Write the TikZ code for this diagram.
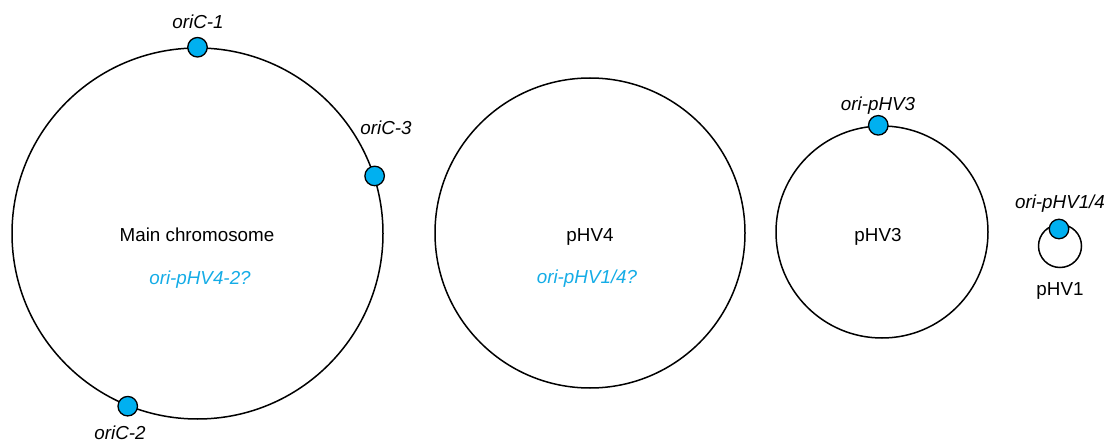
\documentclass[tikz,border=0pt]{standalone}
\usepackage{fontspec}
\setmainfont{Liberation Sans}
\definecolor{oricyan}{RGB}{0,176,240}
\definecolor{oritext}{RGB}{20,172,230}
\begin{document}
\begin{tikzpicture}[x=1pt,y=-1pt,
  replicon/.style={draw=black,line width=1.5pt,circle,inner sep=0pt},
  origin/.style={draw=black,fill=oricyan,line width=1.3pt,circle,inner sep=0pt,minimum size=19.5pt},
  lbl/.style={anchor=base,inner sep=0pt,font=\fontsize{18.8}{21}\selectfont},
  orilbl/.style={lbl,font=\fontsize{18.8}{21}\selectfont\itshape},
  qlbl/.style={orilbl,text=oritext}]
\useasboundingbox (0,0) rectangle (1109,441);
% replicons
\node[replicon,minimum size=371pt] (main) at (197.5,233.5) {};
\node[replicon,minimum size=310pt] (p4) at (590,233) {};
\node[replicon,minimum size=212pt] (p3) at (882,232) {};
\node[replicon,minimum size=43pt] (p1) at (1060,246) {};
% origins
\node[origin] (o1) at (main.90) {};
\node[origin] (o3) at (main.18) {};
\node[origin] (o2) at (main.248) {};
\node[origin] (op3) at (p3.92) {};
\node[origin] (op1) at (1059,229) {};
% labels
\node[orilbl] (lo1) at (198,29) {oriC-1};
\node[orilbl] (lo3) at (386,135) {oriC-3};
\node[orilbl] (lo2) at (120,439) {oriC-2};
\node[orilbl] (lop3) at (878,111) {ori-pHV3};
\node[orilbl] (lop1) at (1060,208) {ori-pHV1/4};
\node[lbl] (tmain) at (197,241) {Main chromosome};
\node[qlbl] (qmain) at (200,284) {ori-pHV4-2?};
\node[lbl] (tp4) at (590,241.5) {pHV4};
\node[qlbl] (qp4) at (587,283) {ori-pHV1/4?};
\node[lbl] (tp3) at (878,241) {pHV3};
\node[lbl] (tp1) at (1060,295) {pHV1};
\end{tikzpicture}
\end{document}
